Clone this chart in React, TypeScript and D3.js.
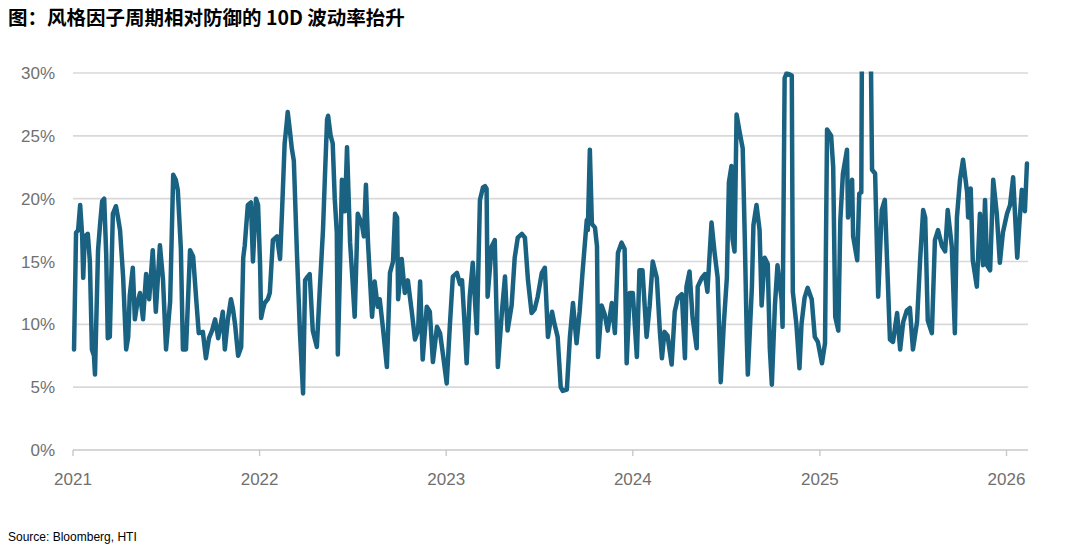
import React from "react";
import * as d3 from "d3";

const TITLE = "图：风格因子周期相对防御的 10D 波动率抬升";
const SOURCE = "Source: Bloomberg, HTI";

// observation dates
const dates: string[] = [
  // 2021
  "2021-01-03","2021-01-07","2021-01-11","2021-01-15","2021-01-19","2021-01-21","2021-01-24","2021-01-30",
  "2021-02-03","2021-02-07","2021-02-11","2021-02-13","2021-02-19","2021-02-23","2021-02-27","2021-03-03",
  "2021-03-07","2021-03-10","2021-03-14","2021-03-20","2021-03-26","2021-03-30","2021-04-03","2021-04-09",
  "2021-04-15","2021-04-19","2021-04-22","2021-04-28","2021-05-02","2021-05-06","2021-05-12","2021-05-18",
  "2021-05-24","2021-05-30","2021-06-06","2021-06-12","2021-06-20","2021-06-26","2021-07-02","2021-07-10",
  "2021-07-16","2021-07-21","2021-07-25","2021-07-31","2021-08-04","2021-08-10","2021-08-18","2021-08-24",
  "2021-08-30","2021-09-04","2021-09-12","2021-09-18","2021-09-24","2021-09-30","2021-10-06","2021-10-12",
  "2021-10-17","2021-10-21","2021-10-25","2021-10-31","2021-11-06","2021-11-10","2021-11-14","2021-11-20",
  "2021-11-26","2021-11-30","2021-12-03","2021-12-09","2021-12-15","2021-12-19","2021-12-25","2021-12-29",
  // 2022
  "2022-01-02","2022-01-04","2022-01-07","2022-01-11","2022-01-17","2022-01-21","2022-01-27","2022-02-04",
  "2022-02-10","2022-02-14","2022-02-19","2022-02-23","2022-02-25","2022-03-01","2022-03-05","2022-03-09",
  "2022-03-15","2022-03-21","2022-03-27","2022-03-31","2022-04-05","2022-04-09","2022-04-15","2022-04-23",
  "2022-04-29","2022-05-05","2022-05-09","2022-05-13","2022-05-15","2022-05-20","2022-05-24","2022-05-28",
  "2022-06-01","2022-06-03","2022-06-07","2022-06-11","2022-06-17","2022-06-21","2022-06-27","2022-07-01",
  "2022-07-06","2022-07-12","2022-07-20","2022-07-24","2022-07-28","2022-08-01","2022-08-09","2022-08-14",
  "2022-08-20","2022-08-24","2022-08-30","2022-09-07","2022-09-13","2022-09-19","2022-09-23","2022-09-27",
  "2022-09-29","2022-10-06","2022-10-12","2022-10-18","2022-10-26","2022-11-01","2022-11-07","2022-11-11",
  "2022-11-16","2022-11-24","2022-11-30","2022-12-06","2022-12-14","2022-12-20","2022-12-26",
  // 2023
  "2023-01-02","2023-01-08","2023-01-14","2023-01-22","2023-01-28","2023-02-01","2023-02-06","2023-02-10",
  "2023-02-16","2023-02-22","2023-03-02","2023-03-08","2023-03-14","2023-03-18","2023-03-21","2023-03-23",
  "2023-03-31","2023-04-06","2023-04-12","2023-04-20","2023-04-26","2023-05-01","2023-05-09","2023-05-15",
  "2023-05-21","2023-05-29","2023-06-04","2023-06-10","2023-06-17","2023-06-23","2023-06-29","2023-07-07",
  "2023-07-13","2023-07-19","2023-07-27","2023-08-01","2023-08-07","2023-08-13","2023-08-17","2023-08-25",
  "2023-08-31","2023-09-06","2023-09-13","2023-09-19","2023-09-25","2023-10-03","2023-10-05","2023-10-09",
  "2023-10-13","2023-10-19","2023-10-23","2023-10-25","2023-11-01","2023-11-07","2023-11-13","2023-11-21",
  "2023-11-27","2023-12-03","2023-12-10","2023-12-16","2023-12-20","2023-12-26",
  // 2024
  "2024-01-01","2024-01-09","2024-01-14","2024-01-20","2024-01-28","2024-02-03","2024-02-09","2024-02-17",
  "2024-02-23","2024-02-27","2024-03-03","2024-03-09","2024-03-17","2024-03-23","2024-03-29","2024-04-06",
  "2024-04-12","2024-04-15","2024-04-21","2024-04-27","2024-05-05","2024-05-07","2024-05-15","2024-05-21",
  "2024-05-26","2024-06-03","2024-06-09","2024-06-15","2024-06-21","2024-06-27","2024-07-03","2024-07-07",
  "2024-07-12","2024-07-14","2024-07-18","2024-07-22","2024-07-28","2024-08-03","2024-08-07","2024-08-11",
  "2024-08-13","2024-08-21","2024-08-24","2024-08-30","2024-09-05","2024-09-09","2024-09-15","2024-09-21",
  "2024-09-25","2024-09-29","2024-10-05","2024-10-10","2024-10-18","2024-10-20","2024-10-24","2024-10-28",
  "2024-11-07","2024-11-09","2024-11-16","2024-11-22","2024-11-26","2024-12-02","2024-12-08","2024-12-16",
  "2024-12-22","2024-12-28",
  // 2025
  "2025-01-05","2025-01-11","2025-01-15","2025-01-23","2025-01-27","2025-01-31","2025-02-06","2025-02-10",
  "2025-02-15","2025-02-23","2025-02-25","2025-03-05","2025-03-07","2025-03-15","2025-03-19","2025-03-23",
  "2025-03-25","2025-04-01","2025-04-09","2025-04-13","2025-04-19","2025-04-25","2025-05-02","2025-05-08",
  "2025-05-12","2025-05-18","2025-05-24","2025-06-01","2025-06-07","2025-06-13","2025-06-20","2025-06-26",
  "2025-07-02","2025-07-10","2025-07-16","2025-07-22","2025-07-26","2025-07-31","2025-08-08","2025-08-14",
  "2025-08-20","2025-08-28","2025-09-03","2025-09-08","2025-09-16","2025-09-22","2025-09-26","2025-10-02",
  "2025-10-08","2025-10-16","2025-10-18","2025-10-23","2025-10-27","2025-11-04","2025-11-10","2025-11-16",
  "2025-11-20","2025-11-24","2025-11-30","2025-12-06","2025-12-13","2025-12-19","2025-12-25",
  // 2026
  "2026-01-02","2026-01-08","2026-01-14","2026-01-22","2026-01-27","2026-01-31","2026-02-06","2026-02-10",
];

// 10D volatility, %
const vol: number[] = [
  // 2021
  8.0,17.3,17.5,19.5,17.0,13.7,17.0,17.2,
  15.0,8.0,7.5,6.0,15.9,18.0,19.8,20.0,
  15.5,8.9,9.0,18.8,19.4,18.5,17.5,13.8,
  8.0,9.0,12.3,14.5,10.4,11.5,12.5,10.4,
  14.0,12.0,15.9,11.0,16.3,13.6,8.0,11.8,
  21.9,21.5,20.7,16.0,8.0,8.0,15.9,15.4,
  12.0,9.3,9.4,7.3,8.9,9.5,10.4,8.9,
  10.0,11.0,8.0,10.4,12.0,11.2,10.0,7.5,
  8.2,15.3,16.3,19.5,19.7,15.0,20.0,19.5,
  // 2022
  14.7,10.5,11.1,11.7,12.0,12.5,16.7,17.0,
  15.2,19.1,24.4,26.0,26.9,25.5,24.0,23.0,
  15.7,9.3,4.5,13.5,13.8,14.0,9.5,8.2,
  13.0,17.5,22.0,26.3,26.6,25.0,24.4,20.0,
  17.3,7.6,14.0,21.5,19.0,24.1,16.5,14.0,
  10.6,18.8,18.0,17.0,21.1,16.5,10.6,13.4,
  11.4,12.0,9.8,6.6,14.1,15.0,18.8,18.5,
  12.0,15.2,12.5,13.5,10.9,8.8,9.5,13.4,
  7.2,11.4,11.0,7.0,9.8,9.3,7.5,
  // 2023
  5.3,9.8,13.8,14.1,13.2,13.5,10.0,6.9,
  12.2,14.9,9.3,19.9,20.9,21.0,20.8,12.2,
  16.2,16.7,6.6,11.0,13.8,9.5,11.5,15.3,
  16.9,17.2,16.9,13.5,10.9,11.2,12.2,14.1,
  14.5,9.0,11.0,10.0,9.0,5.0,4.7,4.8,
  9.0,11.7,8.5,11.0,14.3,18.3,17.5,23.9,
  18.0,17.7,16.2,7.4,11.5,10.8,9.5,11.7,
  9.3,15.7,16.5,16.0,6.9,12.5,
  // 2024
  12.5,7.4,14.3,14.3,9.0,11.5,15.0,13.7,
  9.4,7.3,9.4,9.1,6.8,11.0,12.1,12.4,
  7.3,13.0,14.2,10.5,8.1,13.0,13.7,14.0,
  12.6,18.1,15.7,13.7,5.4,10.0,13.7,21.3,
  22.6,16.8,15.8,26.7,25.3,24.0,17.0,8.9,
  6.0,13.0,17.9,19.5,17.5,11.5,15.3,14.8,
  8.1,5.2,11.5,14.7,12.0,9.8,29.6,30.0,
  29.8,12.6,10.0,6.5,10.0,12.1,12.9,12.0,
  9.0,8.6,
  // 2025
  6.9,8.5,25.5,25.0,22.5,10.6,9.5,18.3,
  22.0,23.9,18.5,21.5,17.0,15.1,20.4,20.5,
  40.0,45.0,38.0,22.3,22.0,12.2,19.1,19.9,
  15.5,8.8,8.6,10.9,8.0,10.2,11.1,11.3,
  8.0,10.2,15.1,19.1,18.5,10.3,9.3,16.7,
  17.5,16.2,15.8,19.1,16.2,9.3,18.5,21.5,
  23.1,20.5,18.5,20.8,15.1,13.0,18.8,14.7,
  19.9,14.7,14.3,21.5,18.8,14.9,17.3,
  // 2026
  18.8,19.5,21.7,15.3,18.5,20.7,19.0,22.8,
];

const yTicks: number[] = [0, 5, 10, 15, 20, 25, 30];
const xTickLabels: string[] = ["2021", "2022", "2023", "2024", "2025", "2026"];

export default function App() {
  const W = 1080;
  const H = 546;
  const left = 73;
  const right = 1028;
  const top = 73;
  const bottom = 450;

  const parse = d3.timeParse("%Y-%m-%d");
  const data = dates.map((d, i) => ({ date: parse(d) as Date, v: vol[i] }));

  const x = d3
    .scaleTime()
    .domain([new Date(2021, 0, 1), new Date(2026, 0, 1)])
    .range([left, 1006.5]);
  const y = d3.scaleLinear().domain([0, 30]).range([bottom, top]);

  const line = d3
    .line<{ date: Date; v: number }>()
    .x((d) => x(d.date))
    .y((d) => y(d.v));

  const labelFont = "'Liberation Sans', Arial, sans-serif";

  return (
    <svg
      width={W}
      height={H}
      viewBox={`0 0 ${W} ${H}`}
      style={{ position: "absolute", left: 0, top: 0, display: "block", background: "#fff" }}
    >
      <defs>
        <clipPath id="plotClip">
          <rect x={left - 10} y={top - 1.5} width={right - left + 20} height={bottom - top + 10} />
        </clipPath>
      </defs>

      <text
        x={8}
        y={25}
        fontFamily="'Noto Sans CJK SC', sans-serif"
        fontWeight="bold"
        fontSize={19.5}
        fill="#000"
      >
        {TITLE}
      </text>

      {/* grid lines */}
      {yTicks.map((t) => (
        <g key={t}>
          <line
            x1={left}
            x2={right}
            y1={y(t)}
            y2={y(t)}
            stroke={t === 0 ? "#c8c8c8" : "#d9d9d9"}
            strokeWidth={1.6}
          />
          <text
            x={55}
            y={y(t) + 6}
            textAnchor="end"
            fontFamily={labelFont}
            fontSize={17}
            fill="#707070"
          >
            {`${t}%`}
          </text>
        </g>
      ))}

      {/* x ticks */}
      {xTickLabels.map((lab) => {
        const xx = x(new Date(+lab, 0, 1));
        return (
          <g key={lab}>
            <line x1={xx} x2={xx} y1={bottom} y2={bottom + 6} stroke="#c8c8c8" strokeWidth={1.4} />
            <text
              x={xx}
              y={485}
              textAnchor="middle"
              fontFamily={labelFont}
              fontSize={17}
              fill="#707070"
            >
              {lab}
            </text>
          </g>
        );
      })}

      <g clipPath="url(#plotClip)">
        <path
          d={line(data) || ""}
          fill="none"
          stroke="#1a6282"
          strokeWidth={4.5}
          strokeLinejoin="round"
          strokeLinecap="round"
        />
      </g>

      <text x={8} y={541} fontFamily={labelFont} fontSize={12} fill="#000">
        {SOURCE}
      </text>
    </svg>
  );
}
